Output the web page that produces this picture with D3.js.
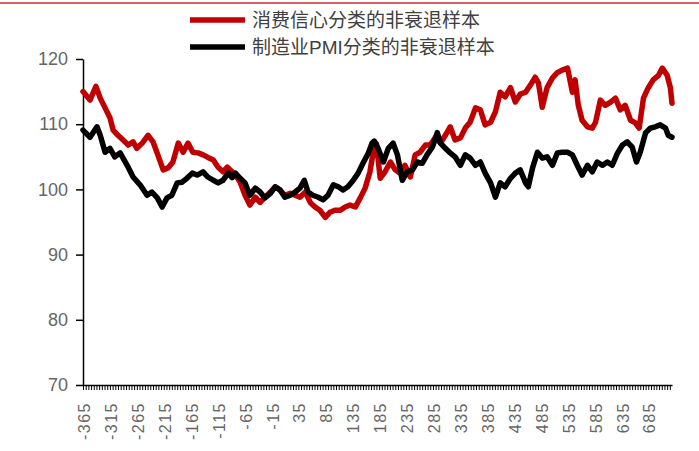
<!DOCTYPE html>
<html>
<head>
<meta charset="utf-8">
<script src="https://cdn.jsdelivr.net/npm/d3@7"></script>
<style>
  body { margin: 0; background: #fff; }
  svg text { font-family: "Liberation Sans", "Noto Sans CJK SC", sans-serif; }
</style>
</head>
<body>
<svg id="graph" width="699" height="451"></svg>
<script>
// legend names
var seriesNames = ['消费信心分类的非衰退样本', '制造业PMI分类的非衰退样本'];

// [day, value]
var consumerData = [
  [-365,115.0],[-352,113.7],[-341,115.8],[-333,114.0],[-324,112.5],[-315,111.0],[-309,109.1],[-300,108.3],
  [-291,107.6],[-281,106.8],[-272,107.3],[-265,106.3],[-255,107.1],[-244,108.3],[-235,107.3],[-226,105.3],
  [-216,103.0],[-207,103.3],[-198,104.2],[-188,107.1],[-179,105.7],[-170,107.1],[-161,105.7],[-151,105.6],
  [-142,105.3],[-133,104.9],[-123,104.5],[-114,103.4],[-105,102.7],[-97,103.4],[-92,103.0],[-82,102.2],
  [-73,101.1],[-64,99.1],[-55,97.6],[-45,98.8],[-36,98.0],[-27,98.8],[-17,99.6],[-8,100.4],[1,99.9],
  [10,99.1],[20,99.4],[29,99.1],[38,98.8],[48,99.6],[57,98.0],[66,97.3],[75,96.8],[85,95.7],[94,96.5],
  [103,96.8],[113,96.8],[122,97.3],[131,97.6],[141,97.3],[150,98.7],[159,100.2],[168,102.7],[174,105.7],
  [180,107.0],[187,101.7],[196,102.7],[206,104.2],[215,103.0],[224,102.5],[233,103.7],[243,101.9],
  [252,105.3],[261,105.7],[271,106.8],[280,106.8],[289,107.9],[299,107.1],[308,108.3],[317,109.6],
  [326,107.6],[336,107.9],[345,109.4],[354,110.3],[364,112.5],[373,112.2],[382,109.9],[392,110.3],
  [401,111.9],[410,114.9],[419,114.2],[429,115.6],[438,113.4],[447,114.6],[457,114.9],[466,116.0],
  [475,117.2],[481,116.3],[488,112.6],[497,115.6],[507,117.1],[516,117.9],[525,118.3],[535,118.6],
  [544,114.9],[549,116.8],[555,112.9],[562,110.6],[572,109.6],[581,109.4],[587,110.3],[596,113.7],
  [605,112.9],[615,113.4],[624,114.0],[633,112.2],[642,112.9],[652,110.6],[661,110.2],[668,109.4],
  [676,114.0],[685,115.6],[694,116.8],[704,117.5],[711,118.6],[720,117.5],[726,115.6],[729,113.2]
];

var pmiData = [
  [-365,109.1],[-352,108.0],[-339,109.6],[-333,108.3],[-324,105.7],[-315,106.3],[-306,105.0],[-296,105.6],
  [-283,103.7],[-272,101.9],[-259,100.7],[-246,99.1],[-237,99.6],[-227,98.7],[-218,97.3],[-209,98.7],
  [-200,99.1],[-190,101.0],[-181,101.1],[-172,101.7],[-162,102.5],[-153,102.2],[-142,102.7],[-133,101.9],
  [-123,101.4],[-114,101.0],[-105,101.4],[-95,102.5],[-88,101.8],[-82,102.5],[-73,101.7],[-64,101.0],
  [-55,99.1],[-45,100.2],[-36,99.6],[-27,98.7],[-17,99.4],[-8,100.4],[1,99.9],[10,98.8],[20,99.1],
  [29,99.6],[38,100.2],[46,101.4],[53,99.6],[62,99.1],[72,98.8],[81,98.4],[90,99.1],[100,100.7],
  [109,100.4],[118,99.9],[127,100.4],[137,101.4],[146,102.5],[155,104.0],[165,105.6],[172,107.1],
  [176,107.4],[183,106.3],[193,104.2],[202,106.3],[211,107.1],[219,105.3],[228,101.4],[237,102.7],
  [247,103.0],[256,104.2],[265,104.0],[274,105.3],[284,106.5],[293,108.7],[299,107.1],[308,106.3],
  [317,105.6],[326,105.0],[336,103.7],[345,105.3],[354,104.8],[364,103.7],[373,104.2],[382,102.5],
  [392,101.0],[401,98.8],[410,101.0],[419,100.4],[429,101.7],[438,102.5],[447,103.0],[457,101.0],
  [462,100.4],[470,103.3],[479,105.7],[488,104.8],[497,105.0],[507,103.7],[516,105.6],[525,105.7],
  [535,105.7],[544,105.3],[553,103.7],[562,102.2],[572,103.7],[581,102.7],[590,104.2],[600,103.7],
  [609,104.2],[618,103.7],[628,105.6],[637,106.8],[646,107.3],[655,106.5],[663,104.2],[670,105.7],
  [680,108.7],[689,109.4],[698,109.6],[707,109.9],[717,109.4],[722,108.3],[729,108.0]
];

var xDomain = [-365, 729];
var xMinorTicks = d3.range(-365, 730, 5);
var xLabelTicks = d3.range(-365, 686, 50);
var yTicks = [70, 80, 90, 100, 110, 120];
var seriesColors = ['#C00000', '#000000'];

/*******************************************************************************************/

var svg = d3.select('#graph');

var xScale = d3.scaleLinear().domain(xDomain).range([83, 672]);
var yScale = d3.scaleLinear().domain([70, 120]).range([385, 59]);

// top separator
svg.append('line').attr('x1', 0).attr('x2', 699).attr('y1', 3).attr('y2', 3)
  .style('stroke', '#cf6666').style('stroke-width', 2);

// y axis
var yAxis = svg.append('g').attr('transform', 'translate(83,0)')
  .call(d3.axisLeft(yScale).tickValues(yTicks).tickSize(7).tickPadding(8).tickSizeOuter(0));
yAxis.select('.domain').style('stroke', '#000').style('stroke-width', 1.5);
yAxis.selectAll('.tick line').style('stroke', '#000').style('stroke-width', 1.5);
yAxis.selectAll('.tick text').style('font-size', '18px').style('fill', '#666');

// x axis
var xAxis = svg.append('g').attr('transform', 'translate(0,385)')
  .call(d3.axisBottom(xScale).tickValues(xMinorTicks).tickSize(5).tickSizeOuter(0)
    .tickFormat(function(d){ return xLabelTicks.indexOf(d) >= 0 ? d : ''; }));
xAxis.select('.domain').style('stroke', '#000').style('stroke-width', 1.5);
xAxis.selectAll('.tick line').style('stroke', '#000').style('stroke-width', 1);
xAxis.selectAll('.tick text')
  .attr('transform', 'rotate(-90)')
  .attr('x', -17).attr('y', 1).attr('dy', '0.35em')
  .style('text-anchor', 'end').style('font-size', '16px').style('fill', '#666')
  .style('letter-spacing', '1.5px');

// lines
var lineGen = d3.line().x(function(d){ return xScale(d[0]); }).y(function(d){ return yScale(d[1]); });

[consumerData, pmiData].forEach(function(data, i){
  svg.append('path').datum(data).attr('d', lineGen)
    .style('fill', 'none').style('stroke', seriesColors[i]).style('stroke-width', 5.5)
    .style('stroke-linejoin', 'round').style('stroke-linecap', 'round');
});

// legend
seriesNames.forEach(function(name, i){
  var ly = 20 + i * 27;
  svg.append('line').attr('x1', 190).attr('x2', 245).attr('y1', ly).attr('y2', ly)
    .style('stroke', seriesColors[i]).style('stroke-width', 5.5);
  svg.append('text').attr('x', 252).attr('y', ly).attr('dy', '0.35em')
    .style('font-size', '19px').style('fill', '#404040').text(name);
});
</script>
</body>
</html>
